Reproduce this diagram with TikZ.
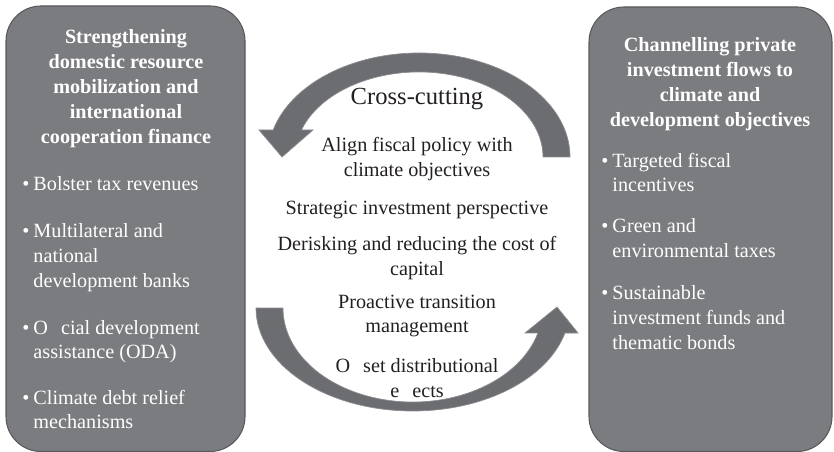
\documentclass[tikz,border=0pt]{standalone}
\usepackage{fontspec}
\setmainfont{Liberation Serif}

\definecolor{panelgray}{RGB}{123,124,128}
\definecolor{paneledge}{RGB}{88,89,92}
\definecolor{arrowgray}{RGB}{108,109,113}
\definecolor{arrowedge}{RGB}{140,141,145}
\definecolor{inkgray}{RGB}{35,31,32}

\begin{document}
\begin{tikzpicture}[
        x = 0.02cm, y = 0.02cm,
        panel/.style = {%
            fill = panelgray, draw = paneledge, line width = 0.6pt,
            rounded corners = 0.7cm
        },
        paneltitle/.style = {%
            text = white, align = center, inner sep = 0pt,
            font = \fontsize{11.5}{14.2}\selectfont\bfseries
        },
        panelitem/.style = {%
            text = white, anchor = west, inner sep = 0pt,
            font = \fontsize{11.5}{14.2}\selectfont
        },
        cycletext/.style = {%
            text = inkgray, align = center, inner sep = 0pt,
            font = \fontsize{11.5}{14.2}\selectfont
        },
        cyclearrow/.style = {fill = arrowgray, draw = arrowedge, line width = 0.4pt}
    ]

        \useasboundingbox (0, 0) rectangle (834, 452);

        % Side panels.
        \draw[panel] (6, 0.5) rectangle (245, 446);
        \draw[panel] (589, 0.5) rectangle (832, 445);

        % Cycle of arrows.
        \draw[cyclearrow] (570, 295) arc[start angle = 0, end angle = 164.9, x radius = 151, y radius = 104]
            -- (259, 322) -- (282, 295) -- (313, 322) -- (301.4, 322)
            arc[start angle = 161.5, end angle = 0, x radius = 124, y radius = 85] -- cycle;
        \draw[cyclearrow] (256, 144) arc[start angle = 180, end angle = 345.9, x radius = 156.8, y radius = 103]
            -- (578, 119) -- (557, 145) -- (525, 119) -- (537.9, 119)
            arc[start angle = 344.6, end angle = 180, x radius = 129.8, y radius = 94] -- cycle;

        % Left panel.
        \node[paneltitle] (ltitle) at (126, 363) {Strengthening\\ domestic resource\\ mobilization and\\ international\\ cooperation finance};
        \node[panelitem] (ltax) at (22, 266) {\begin{tabular}{@{}l@{\hspace{0.2em}}l@{}}\textbullet & Bolster tax revenues\end{tabular}};
        \node[panelitem] (lbanks) at (22, 194.5) {\begin{tabular}{@{}l@{\hspace{0.2em}}l@{}}\textbullet & Multilateral and\\ & national\\ & development banks\end{tabular}};
        \node[panelitem] (loda) at (22, 110.5) {\begin{tabular}{@{}l@{\hspace{0.2em}}l@{}}\textbullet & O\phantom{ff}cial development\\ & assistance (ODA)\end{tabular}};
        \node[panelitem] (ldebt) at (22, 40.5) {\begin{tabular}{@{}l@{\hspace{0.2em}}l@{}}\textbullet & Climate debt relief\\ & mechanisms\end{tabular}};

        % Right panel.
        \node[paneltitle] (rtitle) at (710, 368) {Channelling private\\ investment flows to\\ climate and\\ development objectives};
        \node[panelitem] (rincent) at (601, 277.5) {\begin{tabular}{@{}l@{\hspace{0.2em}}l@{}}\textbullet & Targeted fiscal\\ & incentives\end{tabular}};
        \node[panelitem] (rtaxes) at (601, 212) {\begin{tabular}{@{}l@{\hspace{0.2em}}l@{}}\textbullet & Green and\\ & environmental taxes\end{tabular}};
        \node[panelitem] (rfunds) at (601, 132.5) {\begin{tabular}{@{}l@{\hspace{0.2em}}l@{}}\textbullet & Sustainable\\ & investment funds and\\ & thematic bonds\end{tabular}};

        % Middle labels.
        \node[cycletext, font = \fontsize{14}{17}\selectfont] (cross) at (417, 353) {Cross-cutting};
        \node[cycletext] (align) at (417, 292.5) {Align fiscal policy with\\ climate objectives};
        \node[cycletext] (strat) at (417, 242) {Strategic investment perspective};
        \node[cycletext] (derisk) at (417, 194) {Derisking and reducing the cost of\\ capital};
        \node[cycletext] (proact) at (417, 136) {Proactive transition\\ management};
        \node[cycletext] (offset) at (417, 74) {O\phantom{ff}set distributional\\ e\phantom{ff}ects};
    \end{tikzpicture}
\end{document}
